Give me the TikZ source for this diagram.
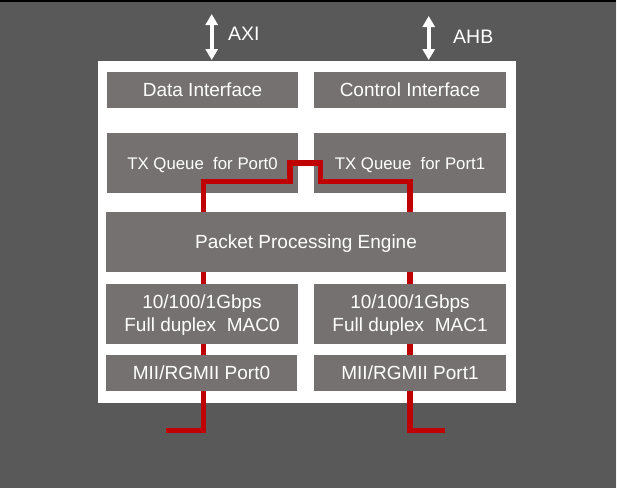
\documentclass[tikz,border=0pt]{standalone}
\usepackage{fontspec}
\setmainfont{Liberation Sans}
\usetikzlibrary{arrows.meta}
\definecolor{bggray}{HTML}{595959}
\definecolor{boxgray}{HTML}{767171}
\definecolor{redline}{HTML}{C00000}
\begin{document}
\begin{tikzpicture}[x=1pt,y=-1pt,
  blk/.style={fill=boxgray,draw=none,inner sep=0pt,text=white,font=\fontsize{19}{23}\selectfont,align=center,text height=13.6pt,text depth=0pt},
  txblk/.style={blk,font=\fontsize{16.8}{20}\selectfont,text height=12pt},
  macblk/.style={blk,text height=36.6pt},
  lbl/.style={text=white,font=\fontsize{19.5}{22}\selectfont,inner sep=0pt,anchor=west},
  bus/.style={draw=white,line width=4pt,{Triangle[width=12pt,length=11pt]}-{Triangle[width=12pt,length=11pt]}},
  redpath/.style={draw=redline,line width=5.3pt,miter limit=10}]
\useasboundingbox (0,0) rectangle (617,488);
\fill[bggray] (0,0) rectangle (617,488);
\fill[white!92!gray] (616,0) rectangle (617,488);
\fill[black] (0,0) rectangle (616,1.5);
% white chip
\fill[white] (98,61) rectangle (516,403);
% upper blocks
\node[blk,minimum width=191pt,minimum height=36pt] (data) at (202.5,90) {Data Interface};
\node[blk,minimum width=192pt,minimum height=36pt] (ctrl) at (410,90) {Control Interface};
\node[txblk,minimum width=191pt,minimum height=60pt] (tx0) at (202.5,163) {TX Queue \ for Port0};
\node[txblk,minimum width=192pt,minimum height=60pt] (tx1) at (410,163) {TX Queue \ for Port1};
% red path coordinates
\coordinate (l0) at (166,430.5);
\coordinate (l1) at (203.3,430.5);
\coordinate (l2) at (203.3,181.7);
\coordinate (s1) at (290,181.7);
\coordinate (s2) at (290,163);
\coordinate (s3) at (320.7,163);
\coordinate (s4) at (320.7,181.7);
\coordinate (r2) at (410,181.7);
\coordinate (r1) at (410,430.5);
\coordinate (r0) at (445.3,430.5);
\draw[redpath] (l0) -- (l1) -- (l2) -- (s1) -- (s2) -- (s3) -- (s4) -- (r2) -- (r1) -- (r0);
% lower blocks
\node[blk,minimum width=400pt,minimum height=60pt] (ppe) at (306,242) {Packet Processing Engine};
\node[macblk,minimum width=192pt,minimum height=60pt] (mac0) at (202,313.5) {10/100/1Gbps\\Full duplex \ MAC0};
\node[macblk,minimum width=192pt,minimum height=60pt] (mac1) at (410,313.5) {10/100/1Gbps\\Full duplex \ MAC1};
\node[blk,minimum width=191pt,minimum height=36pt] (mii0) at (201.5,373) {MII/RGMII Port0};
\node[blk,minimum width=192pt,minimum height=36pt] (mii1) at (410,373) {MII/RGMII Port1};
% buses
\coordinate (axitop) at (211.7,14);
\coordinate (axibot) at (211.7,60);
\coordinate (ahbtop) at (428.7,16);
\coordinate (ahbbot) at (428.7,60);
\draw[bus] (axitop) -- (axibot);
\draw[bus] (ahbtop) -- (ahbbot);
\node[lbl] (axi) at (228,34) {AXI};
\node[lbl] (ahb) at (453,37) {AHB};
\end{tikzpicture}
\end{document}
